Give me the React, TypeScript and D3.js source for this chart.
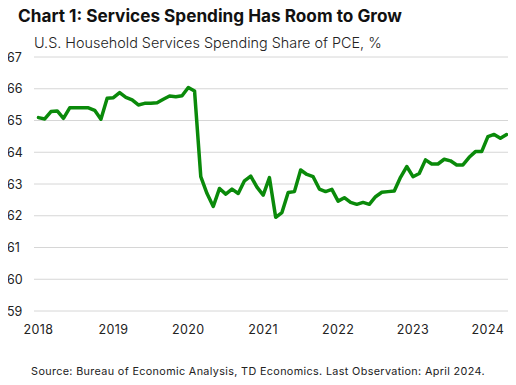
import { useEffect, useRef } from 'react';
import * as d3 from 'd3';

// monthly share of PCE, Jan 2018 .. Apr 2024
const shareValues: number[] = [
  // 2018
  65.09, 65.05, 65.28, 65.3, 65.07, 65.4, 65.4, 65.4, 65.4, 65.32, 65.04, 65.7,
  // 2019
  65.72, 65.88, 65.73, 65.65, 65.49, 65.54, 65.54, 65.56, 65.67, 65.77, 65.75, 65.78,
  // 2020
  66.04, 65.93, 63.23, 62.7, 62.29, 62.86, 62.68, 62.84, 62.7, 63.1, 63.25, 62.9,
  // 2021
  62.65, 63.2, 61.95, 62.1, 62.73, 62.76, 63.44, 63.3, 63.23, 62.84, 62.76, 62.83,
  // 2022
  62.46, 62.57, 62.42, 62.36, 62.42, 62.36, 62.6, 62.74, 62.76, 62.78, 63.21, 63.55,
  // 2023
  63.23, 63.33, 63.76, 63.63, 63.63, 63.78, 63.73, 63.6, 63.6, 63.84, 64.02, 64.02,
  // 2024
  64.49, 64.56, 64.44, 64.56,
];
const yearLabels = ['2018', '2019', '2020', '2021', '2022', '2023', '2024'];
const yTicks = [59, 60, 61, 62, 63, 64, 65, 66, 67];

const title = 'Chart 1: Services Spending Has Room to Grow';
const subtitle = 'U.S. Household Services Spending Share of PCE, %';
const source = 'Source: Bureau of Economic Analysis, TD Economics. Last Observation: April 2024.';

const W = 516;
const H = 385;

const Chart = () => {
  const ref = useRef<SVGSVGElement | null>(null);

  useEffect(() => {
    if (!ref.current) return;
    const svg = d3.select(ref.current);
    svg.selectAll('*').remove();

    const font = "Inter, 'Open Sans', sans-serif";

    // x is month index from Jan 2018
    const x = d3.scaleLinear().domain([0, 72]).range([38.5, 487.9]);
    const y = d3.scaleLinear().domain([59, 67]).range([311, 57]);

    // titles
    svg
      .append('text')
      .attr('x', 18)
      .attr('y', 22)
      .text(title)
      .style('font-family', font)
      .style('font-weight', '700')
      .style('font-size', '17.2px')
      .style('fill', '#111');

    svg
      .append('text')
      .attr('x', 34)
      .attr('y', 48)
      .text(subtitle)
      .style('font-family', font)
      .style('font-weight', '300')
      .style('font-size', '14.4px')
      .style('fill', '#222');

    // gridlines
    svg
      .append('g')
      .selectAll('line')
      .data(yTicks)
      .join('line')
      .attr('x1', 34)
      .attr('x2', 510)
      .attr('y1', (d) => y(d))
      .attr('y2', (d) => y(d))
      .style('stroke', '#d6d6d6')
      .style('stroke-width', 1);

    // y labels
    svg
      .append('g')
      .selectAll('text')
      .data(yTicks)
      .join('text')
      .attr('x', 7)
      .attr('y', (d) => y(d) + 4.5)
      .text((d) => d)
      .style('font-family', font)
      .style('font-size', '12.5px')
      .style('fill', '#222');

    // x labels
    svg
      .append('g')
      .selectAll('text')
      .data(yearLabels)
      .join('text')
      .attr('x', (_, i) => x(i * 12))
      .attr('y', 334)
      .attr('text-anchor', 'middle')
      .text((d) => d)
      .style('font-family', font)
      .style('font-size', '12.5px')
      .style('letter-spacing', '0.4px')
      .style('fill', '#222');

    // series
    const line = d3
      .line<number>()
      .x((_, i) => x(i))
      .y((d) => y(d));

    svg
      .append('path')
      .datum(shareValues)
      .attr('d', line)
      .style('fill', 'none')
      .style('stroke', '#0a8a0a')
      .style('stroke-width', 3.5)
      .style('stroke-linejoin', 'round')
      .style('stroke-linecap', 'round');

    svg
      .append('text')
      .attr('x', W / 2)
      .attr('y', 375)
      .attr('text-anchor', 'middle')
      .text(source)
      .style('font-family', font)
      .style('font-size', '10.8px')
      .style('letter-spacing', '0.35px')
      .style('fill', '#222');
  }, []);

  return <svg ref={ref} width={W} height={H} style={{ display: 'block' }} />;
};

export default function App() {
  return (
    <div style={{ margin: -8, background: '#fff' }}>
      <Chart />
    </div>
  );
}
